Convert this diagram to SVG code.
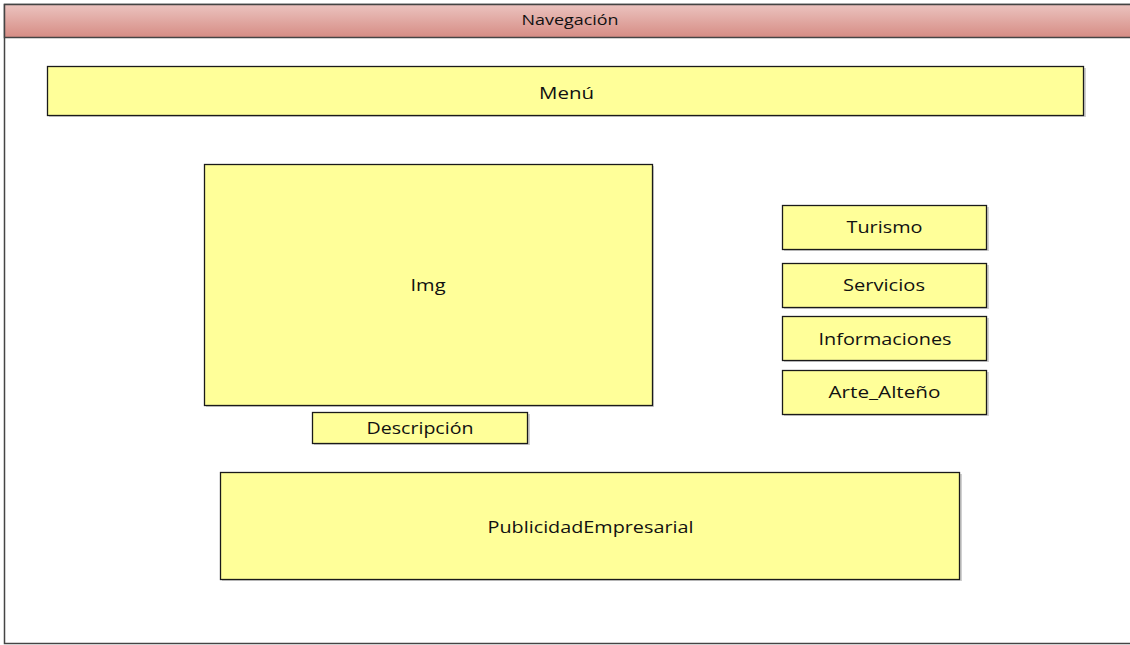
<svg xmlns="http://www.w3.org/2000/svg" width="1130" height="645" viewBox="0 0 1130 645">
  <style>
    .box { fill: #ffff99; stroke: #1a1a1a; stroke-width: 1.3; }
    .shadow { fill: #b0b0b0; opacity: 0.6; }
    .lbl { font-family: "Open Sans", "Lato", "Liberation Sans", sans-serif; font-size: 17px; fill: #111; text-anchor: middle; }
    .hdr { font-family: "Open Sans", "Lato", "Liberation Sans", sans-serif; font-size: 14px; fill: #111; text-anchor: middle; }
  </style>
  <defs>
    <linearGradient id="hdrGrad" x1="0" y1="0" x2="0" y2="1">
      <stop offset="0" stop-color="#ebc3bf"/>
      <stop offset="1" stop-color="#d68c84"/>
    </linearGradient>
  </defs>

  <rect width="1130" height="645" fill="#ffffff"/>

  <!-- page frame with title bar -->
  <g id="navegacion">
    <rect x="4.5" y="4.5" width="1140" height="639" fill="#ffffff" stroke="#444" stroke-width="1.5"/>
    <rect x="4.5" y="4.5" width="1140" height="33" fill="url(#hdrGrad)" stroke="#444" stroke-width="1.5"/>
    <text class="hdr" x="570" y="25" textLength="97" lengthAdjust="spacingAndGlyphs">Navegación</text>
  </g>

  <g id="menu">
    <rect class="shadow" x="49" y="68" width="1037" height="49"/>
    <rect class="box" x="47.5" y="66.5" width="1036" height="49"/>
    <text class="lbl" x="566.5" y="99" textLength="55" lengthAdjust="spacingAndGlyphs">Menú</text>
  </g>

  <g id="img">
    <rect class="shadow" x="206" y="166" width="448" height="241"/>
    <rect class="box" x="204.5" y="164.5" width="448" height="241"/>
    <text class="lbl" x="428" y="291" textLength="35" lengthAdjust="spacingAndGlyphs">Img</text>
  </g>

  <g id="descripcion">
    <rect class="shadow" x="314" y="414" width="216" height="31"/>
    <rect class="box" x="312.5" y="412.5" width="215" height="31"/>
    <text class="lbl" x="420" y="434" textLength="107" lengthAdjust="spacingAndGlyphs">Descripción</text>
  </g>

  <g id="turismo">
    <rect class="shadow" x="784" y="207" width="205" height="44"/>
    <rect class="box" x="782.5" y="205.5" width="204" height="44"/>
    <text class="lbl" x="884.5" y="233" textLength="76" lengthAdjust="spacingAndGlyphs">Turismo</text>
  </g>

  <g id="servicios">
    <rect class="shadow" x="784" y="265" width="205" height="44"/>
    <rect class="box" x="782.5" y="263.5" width="204" height="44"/>
    <text class="lbl" x="884" y="291" textLength="82" lengthAdjust="spacingAndGlyphs">Servicios</text>
  </g>

  <g id="informaciones">
    <rect class="shadow" x="784" y="318" width="205" height="44"/>
    <rect class="box" x="782.5" y="316.5" width="204" height="44"/>
    <text class="lbl" x="885" y="345" textLength="133" lengthAdjust="spacingAndGlyphs">Informaciones</text>
  </g>

  <g id="arte-alteno">
    <rect class="shadow" x="784" y="372" width="205" height="44"/>
    <rect class="box" x="782.5" y="370.5" width="204" height="44"/>
    <text class="lbl" x="884.5" y="398" textLength="112" lengthAdjust="spacingAndGlyphs">Arte_Alteño</text>
  </g>

  <g id="publicidad-empresarial">
    <rect class="shadow" x="222" y="474" width="740" height="107"/>
    <rect class="box" x="220.5" y="472.5" width="739" height="107"/>
    <text class="lbl" x="590.5" y="533" textLength="206" lengthAdjust="spacingAndGlyphs">PublicidadEmpresarial</text>
  </g>

  <g id="connectors"/>
</svg>
